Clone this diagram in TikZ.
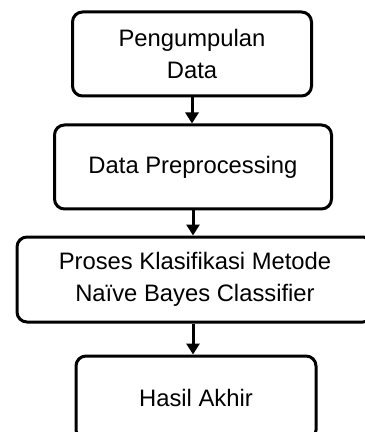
\documentclass[tikz,border=0pt]{standalone}
\usepackage{fontspec}
\setmainfont{Liberation Sans}
\usepackage{xcolor}
\definecolor{Black}{RGB}{0,0,0}
\definecolor{White}{RGB}{255,255,255}
\usetikzlibrary{arrows.meta}

\begin{document}
\begin{tikzpicture}[x=0.5pt, y=-0.5pt,
		box/.style={draw=Black, fill=White, line width=1.5pt, rounded corners=5pt, align=center, inner sep=0pt, font=\fontsize{11.9}{16}\selectfont},
		flow/.style={-{Triangle[width=6.5pt, length=5.5pt]}, line width=1.5pt, draw=Black}]
		
		% Frame
		\useasboundingbox (0,0) rectangle (364,432);
		
		
		% Boxes
		\node[box, minimum width=119.5pt, minimum height=42pt] (kumpul) 	at (192, 54) {Pengumpulan\\Data};
		\node[box, minimum width=138.5pt, minimum height=42pt] (prepro) 	at (193, 167) {Data Preprocessing};
		\node[box, minimum width=178pt, minimum height=42.5pt] (klasif) 	at (195, 279.5) {Proses Klasifikasi Metode\\Na\"ive Bayes Classifier};
		\node[box, minimum width=120pt, minimum height=42pt] (hasil) 		at (196, 398) {Hasil Akhir};


		% Lines
		\draw[flow] (kumpul.south) -- (kumpul.south |- prepro.north);
		\draw[flow] (prepro.south) -- (prepro.south |- klasif.north);
		\draw[flow] (klasif.south -| prepro.south) -- (prepro.south |- hasil.north);
		
	\end{tikzpicture}
\end{document}
